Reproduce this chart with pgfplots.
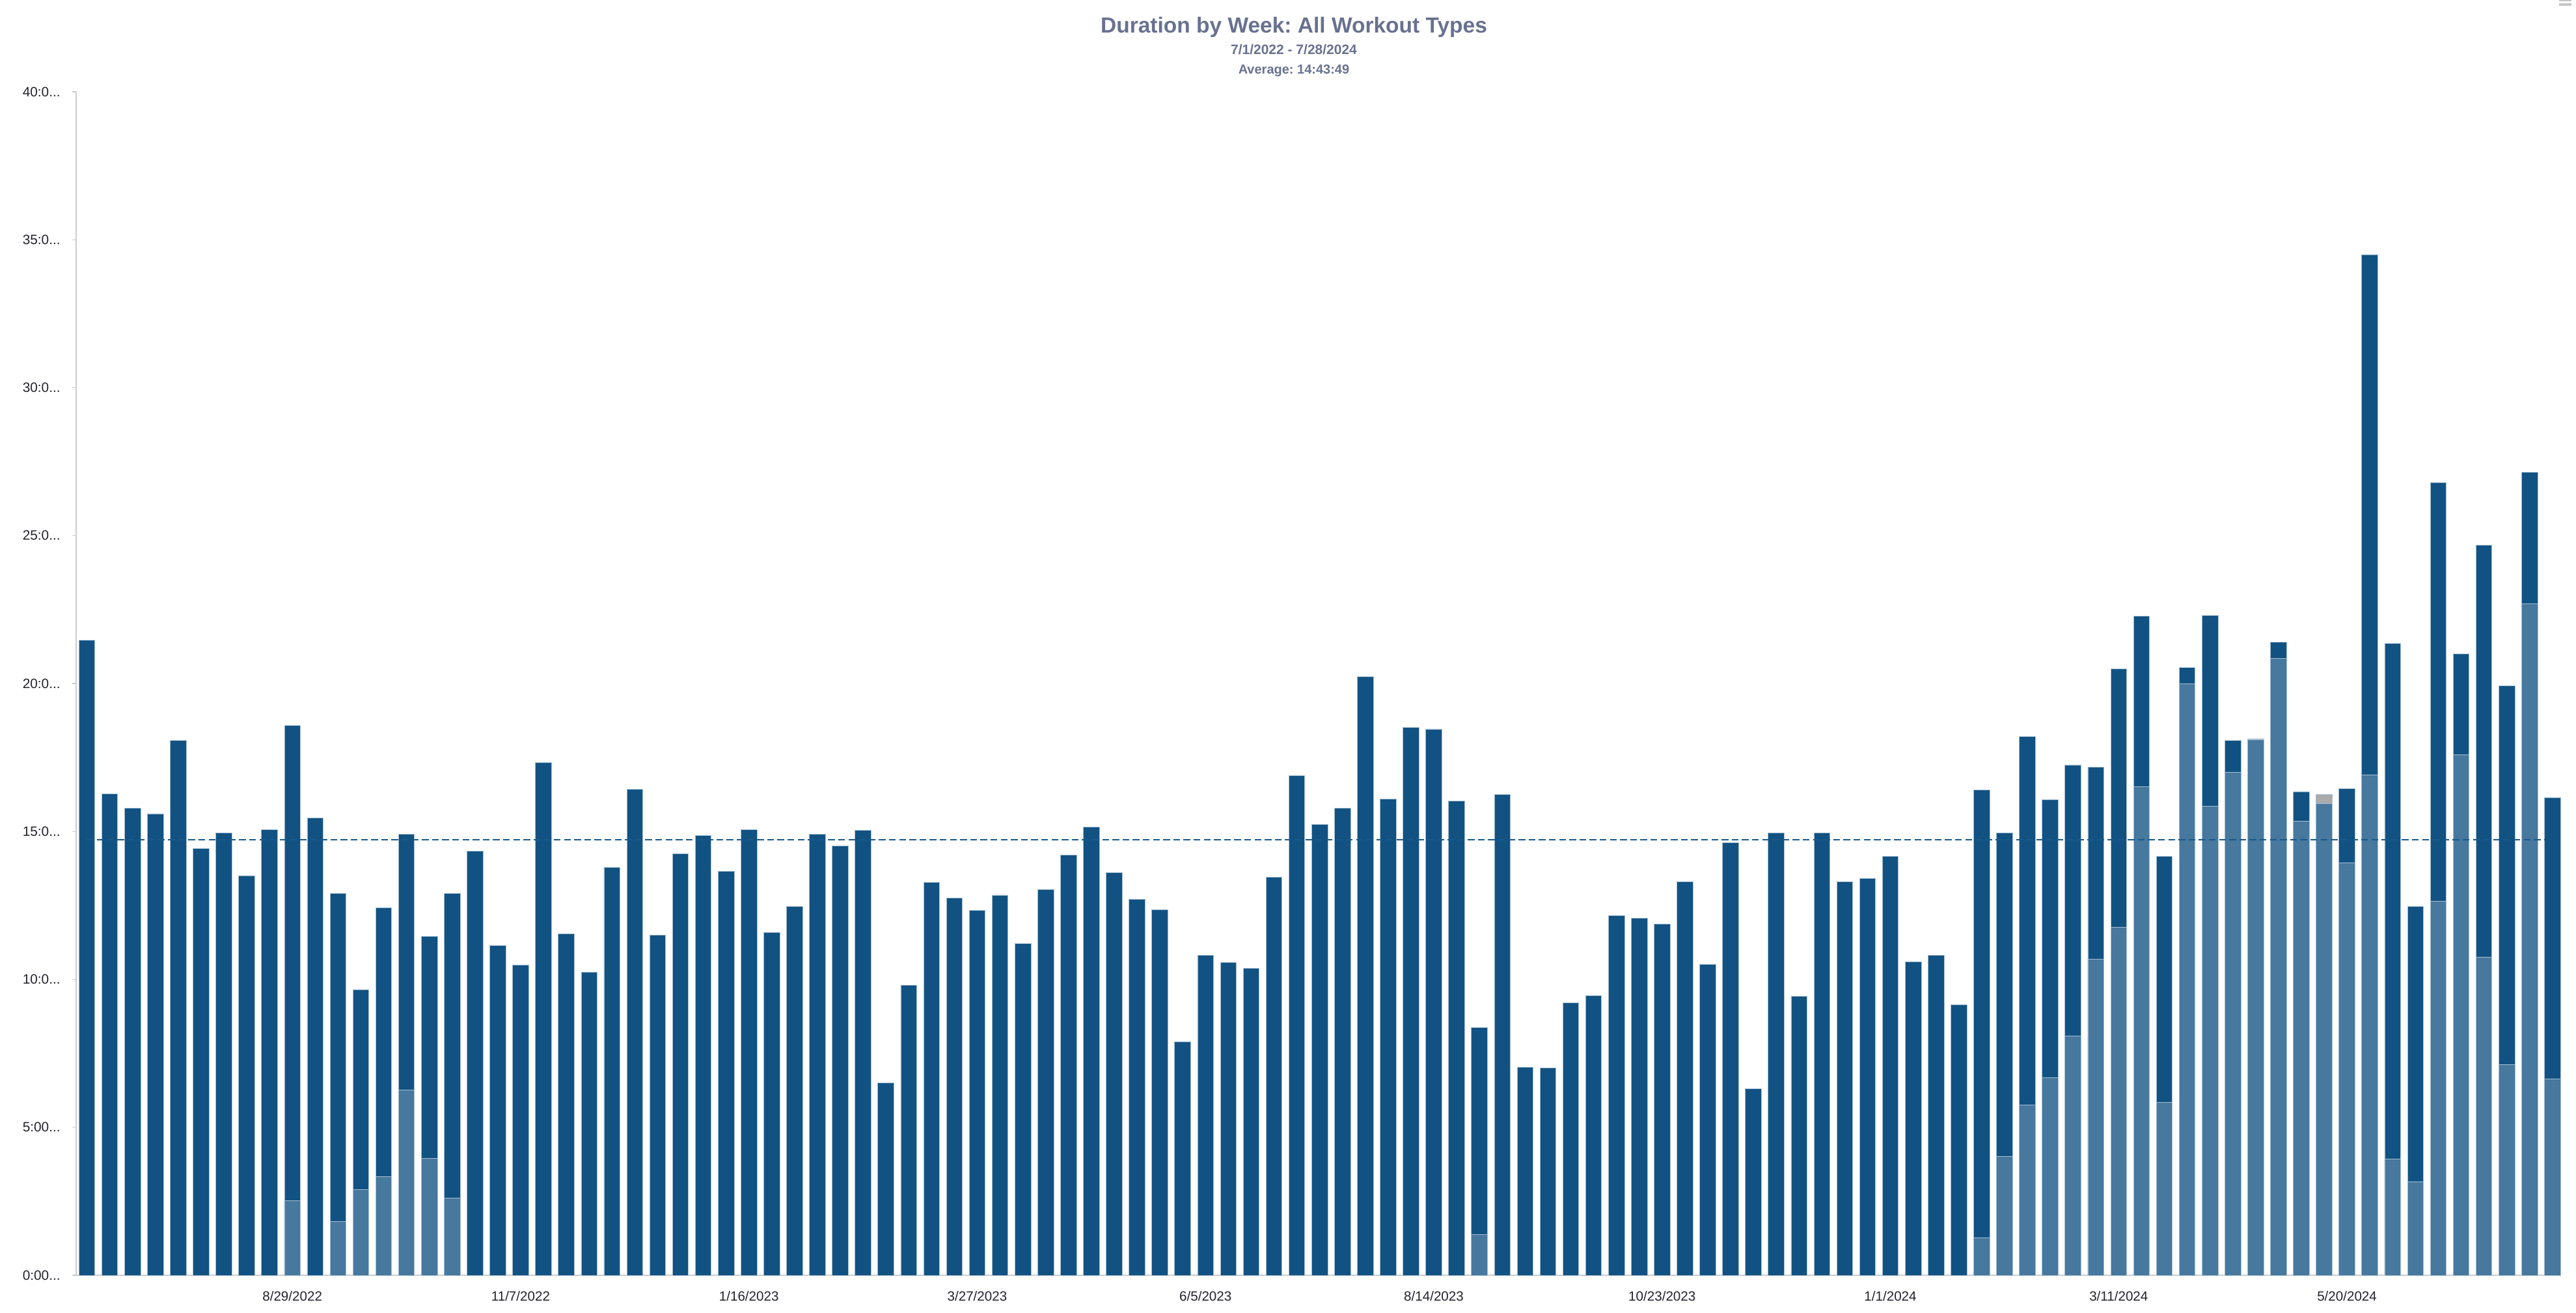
\documentclass[border=0pt]{standalone}
\usepackage{fontspec}
\setmainfont{Liberation Sans}
\usepackage{pgfplots}
\pgfplotsset{compat=1.18}
\usepackage{pgfplotstable}
\frenchspacing

\definecolor{darkbar}{RGB}{17,82,130}
\definecolor{lightbar}{RGB}{71,120,158}
\definecolor{graybar}{RGB}{170,170,170}
\definecolor{titlecol}{RGB}{104,113,143}
\definecolor{avgcol}{RGB}{25,88,140}
\definecolor{axiscol}{RGB}{204,204,204}
\definecolor{tickcol}{RGB}{34,34,44}
\definecolor{edgecol}{RGB}{165,190,212}
\newcommand{\td}{.\kern0pt.\kern0pt.}

% total weekly duration (hours), weeks starting 6/27/2022
\pgfplotstableread{
x total
0 21.46
1 16.27
2 15.78
3 15.60
4 18.07
5 14.43
6 14.96
7 13.51
8 15.07
9 18.58
10 15.45
11 12.90
12 9.66
13 12.42
14 14.91
15 11.45
16 12.90
17 14.34
18 11.15
19 10.49
20 17.33
21 11.54
22 10.24
23 13.78
24 16.42
25 11.49
26 14.24
27 14.87
28 13.66
29 15.06
30 11.58
31 12.46
32 14.91
33 14.51
34 15.03
35 6.51
36 9.81
37 13.27
38 12.76
39 12.34
40 12.85
41 11.21
42 13.03
43 14.21
44 15.15
45 13.61
46 12.70
47 12.36
48 7.90
49 10.82
50 10.57
51 10.37
52 13.46
53 16.88
54 15.24
55 15.78
56 20.24
57 16.09
58 18.52
59 18.46
60 16.03
61 8.37
62 16.25
63 7.04
64 7.00
65 9.21
66 9.46
67 12.16
68 12.06
69 11.87
70 13.30
71 10.51
72 14.63
73 6.30
74 14.96
75 9.42
76 14.96
77 13.30
78 13.42
79 14.15
80 10.60
81 10.82
82 9.15
83 16.40
84 14.96
85 18.21
86 16.08
87 17.25
88 17.18
89 20.50
90 22.27
91 14.15
92 20.55
93 22.30
94 18.08
95 18.13
96 21.40
97 16.35
98 16.25
99 16.44
100 34.50
101 21.36
102 12.46
103 26.80
104 21.01
105 24.67
106 19.93
107 27.15
108 16.15
}\totaltable

% second workout type (bottom segment)
\pgfplotstableread{
x light
9 2.52
11 1.82
12 2.90
13 3.34
14 6.27
15 3.96
16 2.61
61 1.37
83 1.26
84 4.01
85 5.76
86 6.68
87 8.09
88 10.69
89 11.76
90 16.52
91 5.85
92 20.00
93 15.85
94 17.01
95 18.10
96 20.84
97 15.35
98 15.94
99 13.94
100 16.92
101 3.92
102 3.17
103 12.65
104 17.60
105 10.76
106 7.12
107 22.69
108 6.63
}\lighttable

% third workout type (cumulative top)
\pgfplotstableread{
x cum
98 16.25
}\graytable

\begin{document}
\begin{tikzpicture}
\path[use as bounding box] (0pt,0pt) rectangle (989.5pt,504pt);

\node[anchor=base, font=\fontsize{8.375pt}{10pt}\selectfont\bfseries, text=titlecol, inner sep=0pt]
  at (497pt,491.25pt) {Duration by Week: All Workout Types};
\node[anchor=base, font=\fontsize{5.25pt}{6pt}\selectfont\bfseries, text=titlecol, inner sep=0pt]
  at (497pt,483pt) {7/1/2022 - 7/28/2024};
\node[anchor=base, font=\fontsize{5pt}{6pt}\selectfont\bfseries, text=titlecol, inner sep=0pt]
  at (497pt,475.5pt) {Average: 14:43:49};

\fill[gray!45] (983pt,503.575pt) rectangle (987.75pt,504pt);
\fill[gray!45] (983pt,501.825pt) rectangle (987.75pt,502.675pt);

\begin{axis}[
  at={(29.25pt,14.25pt)}, anchor=south west,
  scale only axis, width=954.25pt, height=454.5pt,
  xmin=-0.47, xmax=108.35, ymin=0, ymax=40,
  axis x line*=bottom, axis y line*=left,
  axis line style={draw=axiscol, line width=0.5pt},
  ybar, bar width=0.7,
  ytick={0,5,10,15,20,25,30,35,40},
  yticklabels={0:00\td,5:00\td,10:0\td,15:0\td,20:0\td,25:0\td,30:0\td,35:0\td,40:0\td},
  xtick={9,19,29,39,49,59,69,79,89,99},
  xticklabels={8/29/2022,11/7/2022,1/16/2023,3/27/2023,6/5/2023,8/14/2023,10/23/2023,1/1/2024,3/11/2024,5/20/2024},
  xtick style={draw=none},
  ytick style={draw=axiscol, line width=0.3pt},
  tick align=outside, major tick length=1.5pt,
  yticklabel style={anchor=west, inner sep=0pt, xshift=-19.25pt,
    font=\fontsize{5.2pt}{6pt}\selectfont, text=tickcol},
  xticklabel style={anchor=north, inner sep=0pt, yshift=-4.5pt,
    font=\fontsize{5.15pt}{6pt}\selectfont, text=tickcol},
  /pgf/number format/assume math mode=true,
  clip=false,
]
\addplot[bar shift=0pt, fill=darkbar, draw=edgecol, line width=0.2pt] table[x=x,y=total] {\totaltable};
\addplot[bar shift=0pt, fill=graybar, draw=edgecol, line width=0.2pt] table[x=x,y=cum] {\graytable};
\addplot[bar shift=0pt, fill=lightbar, draw=edgecol, line width=0.2pt] table[x=x,y=light] {\lighttable};
\addplot[sharp plot, no markers, avgcol, line width=0.5pt, dash pattern=on 2.6pt off 1.3pt]
  coordinates {(0,14.7303) (107.65,14.7303)};
\end{axis}
\end{tikzpicture}
\end{document}
